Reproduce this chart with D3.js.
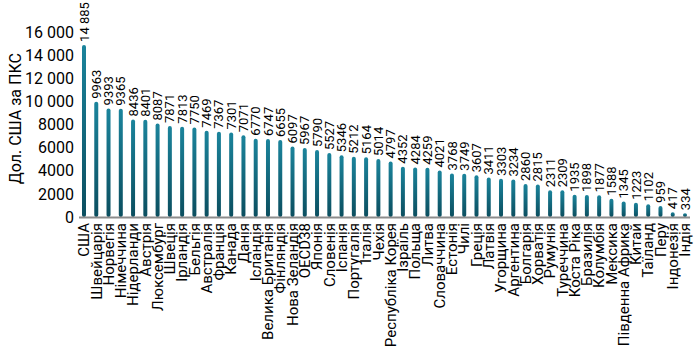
<!DOCTYPE html>
<html>
<head>
<meta charset="utf-8">
<script src="https://cdn.jsdelivr.net/npm/d3@7"></script>
<style>
  body { margin: 0; background: #fff; }
  text { font-family: Roboto, "Noto Sans", sans-serif; fill: #000; }
</style>
</head>
<body>
<div class="bar-chart"></div>
<script>
/* CONSTANTS AND GLOBALS */
const width = 697,
  height = 354,
  margin = { top: 32, bottom: 137, left: 78, right: 6 };

// countries, in the order they appear on the chart
const countries = [
  "США", "Швейцарія", "Норвегія", "Німеччина", "Нідерланди", "Австрія", "Люксембург",
  "Швеція", "Ірландія", "Бельгія", "Австралія", "Франція", "Канада", "Данія",
  "Ісландія", "Велика Британія", "Фінляндія", "Нова Зеландія", "OECD38", "Японія",
  "Словенія", "Іспанія", "Португалія", "Італія", "Чехія", "Республіка Корея",
  "Ізраїль", "Польща", "Литва", "Словаччина", "Естонія", "Чилі", "Греція", "Латвія",
  "Угорщина", "Аргентина", "Болгарія", "Хорватія", "Румунія", "Туреччина",
  "Коста Ріка", "Бразилія", "Колумбія", "Мексика", "Південна Африка", "Китай",
  "Таїланд", "Перу", "Індонезія", "Індія"
];

// USD PPP values
const values = [
  14885, 9963, 9393, 9365, 8436, 8401, 8087,
  7871, 7813, 7750, 7469, 7367, 7301, 7071,
  6770, 6747, 6655, 6097, 5967, 5790,
  5527, 5346, 5212, 5164, 5014, 4797,
  4352, 4284, 4259, 4021, 3768, 3749, 3607, 3411,
  3303, 3234, 2860, 2815, 2311, 2309,
  1935, 1898, 1877, 1588, 1345, 1223,
  1102, 959, 417, 334
];

const yTicks = [0, 2000, 4000, 6000, 8000, 10000, 12000, 14000, 16000];

const data = countries.map((c, i) => ({ country: c, value: values[i] }));

// 10 000 style with a space for 5-digit numbers only
const fmt = n => n >= 10000 ? d3.format(",")(n).replace(/,/g, " ") : String(n);

const svg = d3.select(".bar-chart")
  .append("svg")
  .attr("width", width)
  .attr("height", height);

// gradient for the bars
const grad = svg.append("defs")
  .append("linearGradient")
  .attr("id", "barGrad")
  .attr("x1", 0).attr("y1", 0).attr("x2", 0).attr("y2", 1);
grad.append("stop").attr("offset", "0%").attr("stop-color", "#1b849c");
grad.append("stop").attr("offset", "100%").attr("stop-color", "#0b4e5f");

/* SCALES */
const xScale = d3.scaleBand()
  .domain(countries)
  .range([margin.left, width - margin.right])
  .paddingInner(0.674)
  .paddingOuter(0.326);

const yScale = d3.scaleLinear()
  .domain([0, 16000])
  .range([height - margin.bottom, margin.top]);

/* AXES */
const yAxis = d3.axisLeft(yScale)
  .tickValues(yTicks)
  .tickFormat(fmt)
  .tickSize(0)
  .tickPadding(4);

const yG = svg.append("g")
  .attr("class", "yAxis")
  .attr("transform", `translate(${margin.left}, 0)`)
  .call(yAxis);
yG.select(".domain").remove();
yG.selectAll("text")
  .attr("font-size", 16)
  .attr("font-family", "Roboto, sans-serif");

svg.append("text")
  .text("Дол. США за ПКС")
  .attr("transform", `translate(15, ${yScale(8500)}) rotate(-90)`)
  .attr("text-anchor", "middle")
  .attr("dy", "0.35em")
  .attr("font-size", 16);

/* BARS */
svg.selectAll("rect.bar")
  .data(data)
  .join("rect")
  .attr("class", "bar")
  .attr("x", d => xScale(d.country))
  .attr("width", xScale.bandwidth())
  .attr("y", d => yScale(d.value))
  .attr("height", d => yScale(0) - yScale(d.value))
  .attr("rx", 2)
  .attr("fill", "url(#barGrad)");

// baseline
svg.append("line")
  .attr("x1", margin.left + 1)
  .attr("x2", width - margin.right - 1)
  .attr("y1", yScale(0) + 0.5)
  .attr("y2", yScale(0) + 0.5)
  .attr("stroke", "#8c8c8c")
  .attr("stroke-width", 2);

/* VALUE LABELS */
svg.selectAll("text.val")
  .data(data)
  .join("text")
  .attr("class", "val")
  .attr("transform", d => `translate(${xScale(d.country) + xScale.bandwidth() / 2}, ${yScale(d.value) - 3}) rotate(-90)`)
  .attr("dy", "0.35em")
  .attr("font-size", 13)
  .text(d => fmt(d.value));

/* CATEGORY LABELS */
svg.selectAll("text.cat")
  .data(data)
  .join("text")
  .attr("class", "cat")
  .attr("transform", d => `translate(${xScale(d.country) + xScale.bandwidth() / 2}, ${yScale(0) + 6}) rotate(-90)`)
  .attr("text-anchor", "end")
  .attr("dy", "0.35em")
  .attr("font-size", 15)
  .text(d => d.country);
</script>
</body>
</html>
